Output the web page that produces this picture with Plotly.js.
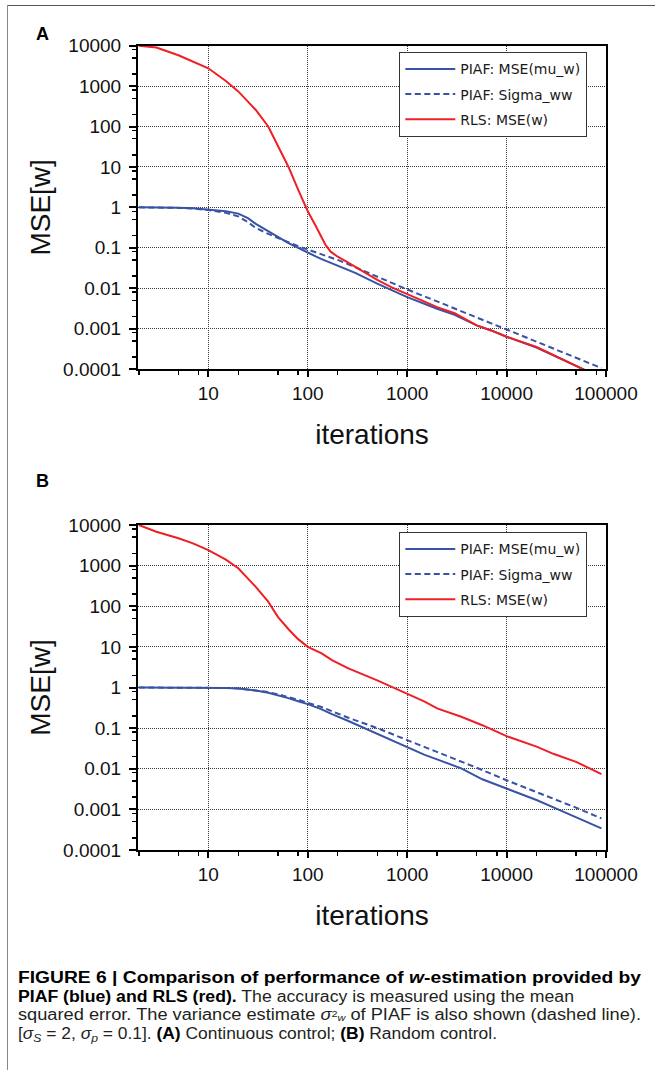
<!DOCTYPE html>
<html>
<head>
<meta charset="utf-8">
<script src="https://cdn.plot.ly/plotly-3.0.1.min.js"></script>
<style>
html,body{margin:0;padding:0;background:#fff;}
#wrap{position:relative;width:655px;height:1074px;overflow:hidden;background:#fff;}
#chart{position:absolute;left:0;top:0;width:655px;height:1074px;}
#frameTop{position:absolute;left:7px;top:5px;width:648px;height:0;border-top:1.5px solid #555;}
#frameLeft{position:absolute;left:7px;top:5px;width:0;height:1065px;border-left:1.5px solid #888;}
#caption{position:absolute;left:18px;top:969px;width:640px;font-family:"Liberation Sans Narrow","Liberation Sans",Arial,sans-serif;font-size:16px;line-height:18.7px;color:#231f20;}
#caption .ln{display:block;white-space:nowrap;transform-origin:0 50%;width:max-content;}
#caption b{color:#000;}
#caption sub{font-size:0.7em;line-height:0;vertical-align:-0.25em;}
#caption sub.vw{font-size:0.6em;vertical-align:-0.12em;font-style:italic;}
#caption sup.v2{font-size:0.6em;line-height:0;vertical-align:0.35em;}
</style>
</head>
<body>
<div id="wrap">
  <div id="chart"></div>
  <div id="frameTop"></div>
  <div id="frameLeft"></div>
  <div id="caption">
    <span class="ln" data-w="623"><b>FIGURE 6 | Comparison of performance of <i>w</i>-estimation provided by</b></span>
    <span class="ln" data-w="556"><b>PIAF (blue) and RLS (red).</b> The accuracy is measured using the mean</span>
    <span class="ln" data-w="623">squared error. The variance estimate <i>σ</i><sup class="v2">2</sup><sub class="vw">w</sub> of PIAF is also shown (dashed line).</span>
    <span class="ln" data-w="479">[<i>σ<sub>S</sub></i> = 2, <i>σ<sub>p</sub></i> = 0.1]. <b>(A)</b> Continuous control; <b>(B)</b> Random control.</span>
  </div>
</div>
<script>
// ---------------- data ----------------
const seriesNames = ['PIAF: MSE(mu_w)', 'PIAF: Sigma_ww', 'RLS: MSE(w)'];

// Panel A (continuous control)
const itersA     = [2, 3, 5, 7, 10, 15, 20, 25, 30, 40, 50, 64, 80, 100, 120, 136, 150, 170, 200, 250, 300, 500, 700, 1000, 2000, 3000, 5000, 7000, 10000, 20000, 50000, 90000];
const piafMseA   = [1.0, 1.0, 0.98, 0.95, 0.88, 0.8, 0.7, 0.54, 0.39, 0.26, 0.185, 0.13, 0.1, 0.075, 0.061, 0.053, 0.048, 0.043, 0.037, 0.03, 0.024, 0.013, 0.0088, 0.006, 0.0031, 0.0022, 0.0012, 0.0009, 0.00063, 0.00034, 0.00012, 0.00006];
const piafSigmaA = [1.0, 1.0, 0.97, 0.93, 0.86, 0.73, 0.6, 0.43, 0.31, 0.22, 0.175, 0.14, 0.11, 0.09, 0.078, 0.07, 0.065, 0.058, 0.05, 0.04, 0.033, 0.02, 0.0135, 0.0093, 0.0047, 0.0031, 0.0019, 0.00135, 0.00095, 0.00048, 0.00019, 0.000105];
const rlsMseA    = [10000, 9000, 5800, 4070, 2760, 1340, 740, 414, 257, 100, 32, 10, 2.75, 0.8, 0.35, 0.19, 0.12, 0.08, 0.06, 0.044, 0.034, 0.016, 0.0105, 0.0071, 0.0034, 0.0024, 0.0012, 0.0009, 0.00063, 0.00035, 0.00012, 0.00006];

// Panel B (random control)
const itersB     = [2, 3, 5, 7, 10, 15, 20, 30, 40, 50, 65, 80, 100, 138, 175, 256, 500, 1000, 1500, 2000, 3500, 5700, 10000, 20000, 30000, 50000, 90000];
const piafMseB   = [1.0, 1.0, 1.0, 1.0, 0.99, 0.97, 0.94, 0.84, 0.74, 0.65, 0.54, 0.46, 0.39, 0.29, 0.22, 0.15, 0.072, 0.033, 0.022, 0.017, 0.0102, 0.0055, 0.0033, 0.0017, 0.0011, 0.00065, 0.00034];
const piafSigmaB = [1.0, 1.0, 1.0, 1.0, 0.99, 0.975, 0.95, 0.86, 0.77, 0.68, 0.58, 0.5, 0.42, 0.33, 0.26, 0.18, 0.1, 0.051, 0.034, 0.026, 0.0145, 0.0093, 0.0052, 0.0027, 0.0018, 0.0011, 0.0006];
const rlsMseB    = [10000, 6850, 4700, 3540, 2420, 1400, 860, 300, 130, 55, 26, 15.5, 10, 6.9, 4.7, 2.95, 1.5, 0.72, 0.45, 0.305, 0.19, 0.118, 0.0635, 0.035, 0.023, 0.0148, 0.0074];

// axis ticks
const xTickVals = [10, 100, 1000, 10000, 100000];
const xTickText = ['10', '100', '1000', '10000', '100000'];
const yTickVals = [0.0001, 0.001, 0.01, 0.1, 1, 10, 100, 1000, 10000];
const yTickText = ['0.0001', '0.001', '0.01', '0.1', '1', '10', '100', '1000', '10000'];
const minorDigits = [2, 5, 8];

// ---------------- styling ----------------
const BLUE = '#3953a4', RED = '#ee1f25';
const W = 655, H = 1074;
const AX_FONT = 'Liberation Sans, Arial, Helvetica, sans-serif';

function minorVals(lo, hi) {
  const out = [];
  for (let e = lo; e < hi; e++) minorDigits.forEach(d => out.push(d * Math.pow(10, e)));
  return out;
}

function xAxis(anchor, title) {
  return {
    type: 'log', range: [Math.log10(1.96), 5], domain: [138 / W, 606 / W], anchor: anchor,
    tickmode: 'array', tickvals: xTickVals, ticktext: xTickText,
    ticks: 'outside', ticklen: 6, tickwidth: 2, tickcolor: '#000',
    showline: true, linewidth: 2, linecolor: '#000', mirror: true,
    showgrid: true, gridcolor: '#3a3a3a', gridwidth: 1, griddash: '1px,1px',
    minor: {tickmode: 'array', tickvals: minorVals(0, 5), ticks: 'outside', ticklen: 4, tickwidth: 1.5, tickcolor: '#000', showgrid: false},
    tickfont: {family: AX_FONT, size: 19, color: '#111'},
    title: {text: title, font: {family: AX_FONT, size: 28, color: '#111'}, standoff: 22},
    zeroline: false, automargin: false, fixedrange: true
  };
}
function yAxis(anchor, dom) {
  return {
    type: 'log', range: [-4, 4], domain: dom, anchor: anchor,
    tickmode: 'array', tickvals: yTickVals, ticktext: yTickText,
    ticks: 'outside', ticklen: 7, tickwidth: 2, tickcolor: '#000',
    showline: true, linewidth: 2, linecolor: '#000', mirror: true,
    showgrid: true, gridcolor: '#3a3a3a', gridwidth: 1, griddash: '1px,1px',
    minor: {tickmode: 'array', tickvals: minorVals(-4, 4), ticks: 'outside', ticklen: 4, tickwidth: 1.5, tickcolor: '#000', showgrid: false},
    tickfont: {family: AX_FONT, size: 19, color: '#111'},
    ticklabelstandoff: 4,
    title: {text: 'MSE[w]', font: {family: AX_FONT, size: 28, color: '#111'}, standoff: 4},
    zeroline: false, automargin: false, fixedrange: true
  };
}

function traces(xs, mse, sig, rls, xa, ya, leg, grp) {
  return [
    {x: xs, y: mse, name: seriesNames[0], mode: 'lines', line: {color: BLUE, width: 2}, xaxis: xa, yaxis: ya, legend: leg, legendgroup: grp + '1'},
    {x: xs, y: sig, name: seriesNames[1], mode: 'lines', line: {color: BLUE, width: 2, dash: '6px,3.5px'}, xaxis: xa, yaxis: ya, legend: leg, legendgroup: grp + '2'},
    {x: xs, y: rls, name: seriesNames[2], mode: 'lines', line: {color: RED, width: 2}, xaxis: xa, yaxis: ya, legend: leg, legendgroup: grp + '3'}
  ];
}

const data = [].concat(
  traces(itersA, piafMseA, piafSigmaA, rlsMseA, 'x', 'y', 'legend', 'a'),
  traces(itersB, piafMseB, piafSigmaB, rlsMseB, 'x2', 'y2', 'legend2', 'b')
);

function legendCfg(topPx) {
  return {
    x: 399 / W, y: 1 - topPx / H, xanchor: 'left', yanchor: 'top',
    bgcolor: '#fff', bordercolor: '#333', borderwidth: 1.3,
    font: {family: 'DejaVu Sans, sans-serif', size: 14, color: '#1a1a1a'},
    itemwidth: 50, tracegroupgap: 4
  };
}

const layout = {
  width: W, height: H, margin: {l: 0, r: 0, t: 0, b: 0},
  paper_bgcolor: 'rgba(0,0,0,0)', plot_bgcolor: '#fff',
  showlegend: true,
  xaxis: xAxis('y', 'iterations'),
  yaxis: yAxis('x', [1 - 369 / H, 1 - 45.7 / H]),
  xaxis2: xAxis('y2', 'iterations'),
  yaxis2: yAxis('x2', [1 - 850 / H, 1 - 525 / H]),
  legend: legendCfg(52),
  legend2: legendCfg(532),
  annotations: [
    {text: '<b>A</b>', x: 42 / W, y: 1 - 34 / H, xref: 'paper', yref: 'paper', xanchor: 'center', yanchor: 'middle', showarrow: false, font: {family: AX_FONT, size: 18, color: '#000'}},
    {text: '<b>B</b>', x: 42 / W, y: 1 - 481 / H, xref: 'paper', yref: 'paper', xanchor: 'center', yanchor: 'middle', showarrow: false, font: {family: AX_FONT, size: 18, color: '#000'}}
  ]
};

Plotly.newPlot('chart', data, layout, {displayModeBar: false, staticPlot: true});

function fitCaption() {
  document.querySelectorAll('#caption .ln').forEach(el => {
    el.style.transform = 'none';
    const w = el.getBoundingClientRect().width;
    const target = parseFloat(el.dataset.w);
    if (w > 0) el.style.transform = 'scaleX(' + (target / w).toFixed(4) + ')';
  });
}
fitCaption();
if (document.fonts && document.fonts.ready) document.fonts.ready.then(fitCaption);
</script>
</body>
</html>
